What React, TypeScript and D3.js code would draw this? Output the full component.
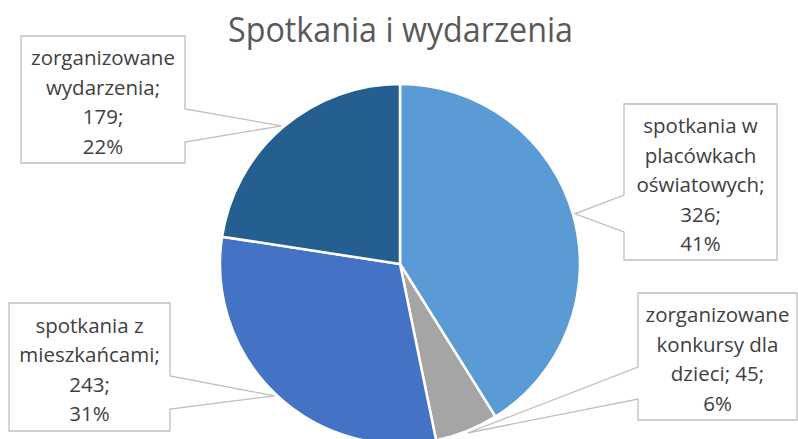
import React, { useEffect, useRef } from "react";
import * as d3 from "d3";

const categories = [
  "spotkania w placówkach oświatowych",
  "zorganizowane konkursy dla dzieci",
  "spotkania z mieszkańcami",
  "zorganizowane wydarzenia",
];
const values = [326, 45, 243, 179];
const percentLabels = ["41%", "6%", "31%", "22%"];
const labelLines = [
  ["spotkania w", "placówkach", "oświatowych;", "326;", "41%"],
  ["zorganizowane", "konkursy dla", "dzieci; 45;", "6%"],
  ["spotkania z", "mieszkańcami;", "243;", "31%"],
  ["zorganizowane", "wydarzenia;", "179;", "22%"],
];
const colors = ["#5B9BD5", "#A5A5A5", "#4472C4", "#255E91"];
const title = "Spotkania i wydarzenia";

// callout box layout (annotation placement)
const boxes = [
  { x: 624, y: 104, w: 153, h: 156, side: "left", a: 195, b: 232 },
  { x: 638, y: 293, w: 159, h: 127, side: "left", a: 367, b: 399 },
  { x: 9, y: 303, w: 161, h: 128, side: "right", a: 376, b: 409 },
  { x: 21, y: 36, w: 164, h: 127, side: "right", a: 109, b: 142 },
];

const W = 798, H = 439;
const cx = 400, cy = 264, R = 180;

export default function App() {
  const ref = useRef<SVGSVGElement>(null);
  useEffect(() => {
    const svg = d3.select(ref.current);
    svg.selectAll("*").remove();
    const pie = d3.pie<number>().sort(null).value((d) => d);
    const arcs = pie(values);
    const arc = d3.arc<d3.PieArcDatum<number>>().innerRadius(0).outerRadius(R);
    const tipArc = d3.arc<d3.PieArcDatum<number>>().innerRadius(R + 2).outerRadius(R + 2);

    const g = svg.append("g").attr("transform", `translate(${cx},${cy})`);
    g.selectAll("path")
      .data(arcs)
      .join("path")
      .attr("d", arc)
      .attr("fill", (_, i) => colors[i])
      .attr("stroke", "#fff")
      .attr("stroke-width", 2.5)
      .attr("stroke-linejoin", "round");

    svg
      .append("text")
      .attr("x", 400.5)
      .attr("y", 42)
      .attr("text-anchor", "middle")
      .attr("font-family", "'Open Sans', sans-serif")
      .attr("font-size", 34)
      .attr("textLength", 345)
      .attr("lengthAdjust", "spacingAndGlyphs")
      .attr("fill", "#595959")
      .text(title);

    arcs.forEach((d, i) => {
      const b = boxes[i];
      const c = tipArc.centroid(d);
      const tx = c[0] + cx, ty = c[1] + cy;
      let p = "";
      if (b.side === "left") {
        p = `M${b.x},${b.y} H${b.x + b.w} V${b.y + b.h} H${b.x} V${b.b} L${tx},${ty} L${b.x},${b.a} Z`;
      } else {
        p = `M${b.x},${b.y} H${b.x + b.w} V${b.a} L${tx},${ty} L${b.x + b.w},${b.b} V${b.y + b.h} H${b.x} Z`;
      }
      svg
        .append("path")
        .attr("d", p)
        .attr("fill", "#fff")
        .attr("stroke", "#BFBFBF")
        .attr("stroke-width", 1.3);
      const lines = labelLines[i];
      const lh = 29.5;
      const mid = b.y + b.h / 2 + 3;
      const start = mid - ((lines.length - 1) * lh) / 2;
      const t = svg
        .append("text")
        .attr("text-anchor", "middle")
        .attr("font-family", "'Open Sans', sans-serif")
        .attr("font-size", 20.5)
        .attr("fill", "#404040");
      lines.forEach((ln, j) => {
        t.append("tspan")
          .attr("x", b.x + b.w / 2)
          .attr("y", start + j * lh)
          .attr("dy", "0.35em")
          .text(ln);
      });
    });
  }, []);
  return (
    <svg
      ref={ref}
      width={W}
      height={H}
      style={{ position: "fixed", left: 0, top: 0, background: "#fff" }}
      aria-label={categories.join(", ") + " " + percentLabels.join(" ")}
    />
  );
}
